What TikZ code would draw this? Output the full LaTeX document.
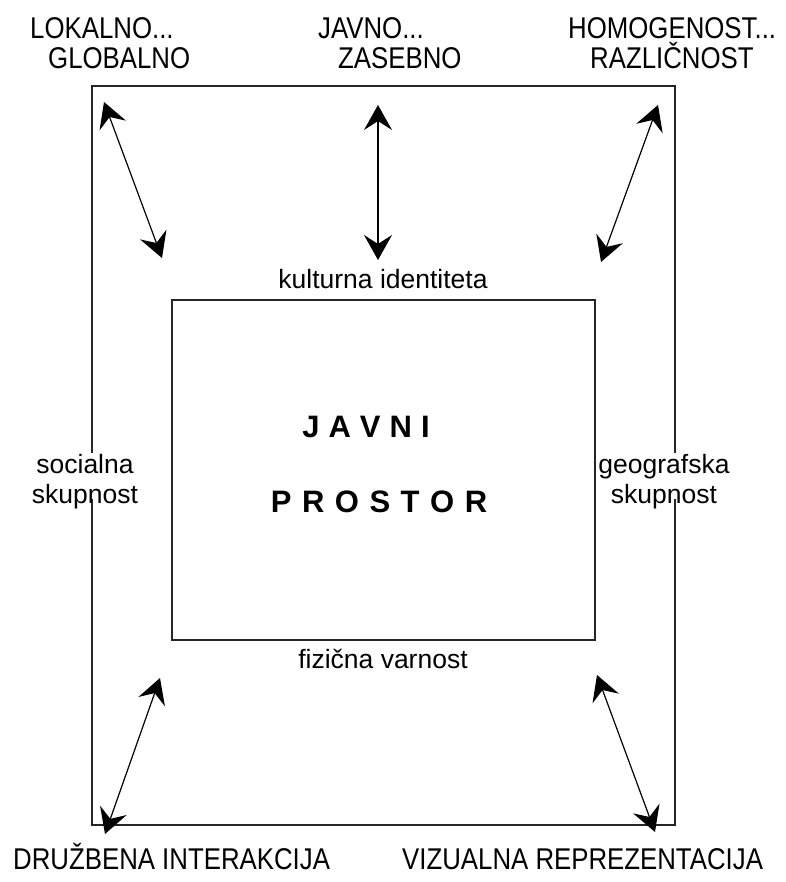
\documentclass[tikz,border=0pt]{standalone}
\usepackage{fontspec}
\setmainfont{Liberation Sans}
\newfontfamily\capsf[FakeStretch=0.86]{Liberation Sans}
\usetikzlibrary{arrows.meta}
\tikzset{
  frame/.style={draw=black!85, line width=1.6pt},
  bigtip/.tip={Stealth[length=25pt,width=28pt,inset=9pt]},
  dbl/.style={line width=1.2pt, bigtip-bigtip},
  caps/.style={font=\capsf\fontsize{30pt}{30pt}\selectfont, inner sep=0pt, anchor=base west},
  lower/.style={font=\fontsize{26.5pt}{30pt}\selectfont, inner sep=0pt},
  title/.style={font=\bfseries\fontsize{31pt}{31pt}\selectfont, inner sep=0pt, anchor=base}
}
\begin{document}
\begin{tikzpicture}[x=1pt,y=-1pt]
\useasboundingbox (0,0) rectangle (785,882);
% frames
\draw[frame] (92,86) rectangle (675,825);
\draw[frame] (172,300) rectangle (595,640);
% masks where side labels overlap the outer frame
\fill[white] (86,453) rectangle (98,499);
\fill[white] (669,453) rectangle (681,499);
% top labels
\node[caps] (lok) at (30,39) {LOKALNO...};
\node[caps] (glo) at (48,69) {GLOBALNO};
\node[caps] (jav) at (318,39) {JAVNO...};
\node[caps] (zas) at (338,69) {ZASEBNO};
\node[caps] (hom) at (568,39) {HOMOGENOST...};
\node[caps] (raz) at (590,69) {RAZLIČNOST};
% bottom labels
\node[caps] (dru) at (13,869) {DRUŽBENA INTERAKCIJA};
\node[caps] (viz) at (402,869) {VIZUALNA REPREZENTACIJA};
% inner labels
\node[lower, anchor=base] (kul) at (383,288) {kulturna identiteta};
\node[lower, anchor=base] (fiz) at (383,668) {fizična varnost};
\node[lower, anchor=base] (soc1) at (85,473) {socialna};
\node[lower, anchor=base] (soc2) at (85,503) {skupnost};
\node[lower, anchor=base] (geo1) at (664,473) {geografska};
\node[lower, anchor=base] (geo2) at (664,503) {skupnost};
% title
\node[title] (javni) at (366,437) {J\kern9pt A\kern9pt V\kern9pt N\kern9pt I};
\node[title] (prostor) at (379,512) {P\kern10.5pt R\kern10.5pt O\kern10.5pt S\kern10.5pt T\kern10.5pt O\kern10.5pt R};
% arrow end points
\coordinate (tl1) at (104,102);
\coordinate (tl2) at (162,258);
\coordinate (tc1) at (378,105);
\coordinate (tc2) at (378,260);
\coordinate (tr1) at (658,105);
\coordinate (tr2) at (601,262);
\coordinate (bl1) at (160,678);
\coordinate (bl2) at (105,834);
\coordinate (br1) at (597,675);
\coordinate (br2) at (655,832);
\draw[dbl] (tl1) -- (tl2);
\draw[dbl] (tc1) -- (tc2);
\draw[dbl] (tr1) -- (tr2);
\draw[dbl] (bl1) -- (bl2);
\draw[dbl] (br1) -- (br2);
\end{tikzpicture}
\end{document}
